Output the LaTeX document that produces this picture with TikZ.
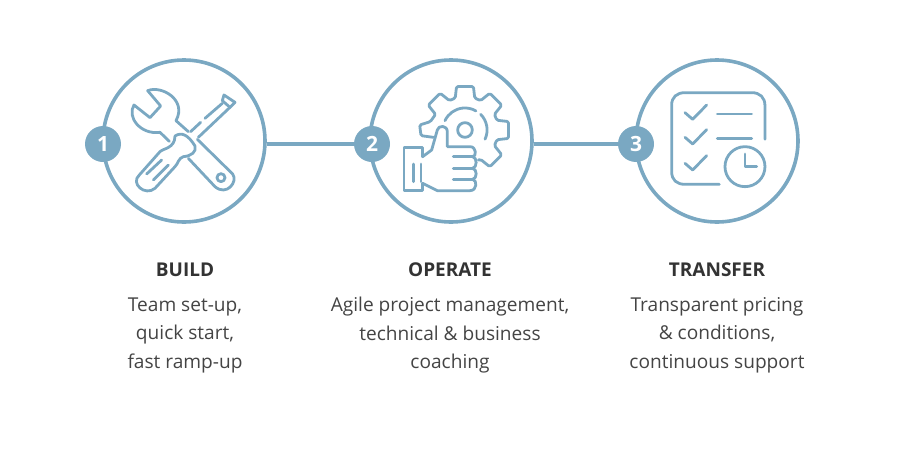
\documentclass[tikz,border=0pt]{standalone}
\usepackage{fontspec}
\setmainfont{Open Sans}
\definecolor{ringblue}{HTML}{7AA8C2}
\definecolor{titlegrey}{HTML}{333333}
\definecolor{bodygrey}{HTML}{444444}
\tikzset{
  ring/.style={circle, draw=ringblue, line width=3.6pt, minimum size=162pt, inner sep=0pt},
  badge/.style={circle, fill=ringblue, minimum size=36pt, inner sep=0pt, text=white, font=\fontsize{21}{21}\selectfont\bfseries},
  link/.style={draw=ringblue, line width=3.6pt},
  icon/.style={draw=ringblue, line width=2.8pt, line cap=round, line join=round},
  zoomed/.style={x=.3333pt, y=-.3333pt},
  heading/.style={text=titlegrey, font=\fontsize{19}{22}\selectfont\bfseries},
  blurb/.style={text=bodygrey, align=center, font=\fontsize{19.1}{28.6}\selectfont}
}
\begin{document}
\begin{tikzpicture}[x=1pt, y=-1pt]
  \useasboundingbox (0,0) rectangle (900,450);

  \node[ring] (build) at (184,141) {};
  \node[ring] (operate) at (451,141) {};
  \node[ring] (transfer) at (717,141) {};

  \node[badge] (num1) at (103,144) {1};
  \node[badge] (num2) at (372,144) {2};
  \node[badge] (num3) at (636,144) {3};

  \draw[link] (build.east |- num2.west) -- (num2.west);
  \draw[link] (operate.east |- num3.west) -- (num3.west);

  % tools
  \begin{scope}[shift={(80,50)}, zoomed]
    \draw[icon] (203,122) -- (242,168) -- (210,203) -- (162,165)
      .. controls (140,200) and (180,255) .. (240,247) -- (268,274);
    \draw[icon] (203,122) .. controls (245,105) and (322,150) .. (288,212) -- (325,245);
    \draw[icon] (352,268) -- (458,372) .. controls (475,395) and (440,440) .. (405,410) -- (325,325);
    \draw[icon] (423,383) circle (12);
    \draw[icon] (432,135) -- (465,157) -- (450,172) -- (427,152) -- cycle;
    \draw[icon] (427,160) -- (375,205);
    \draw[icon] (362,217) -- (332,245);
    \draw[icon] (450,172) -- (355,262);
    \draw[icon] (285,258) .. controls (305,245) and (325,255) .. (345,288)
      .. controls (350,305) and (335,318) .. (310,320)
      .. controls (295,325) and (295,340) .. (285,350) -- (225,415)
      .. controls (195,440) and (150,400) .. (178,375) -- (240,305)
      .. controls (250,295) and (285,295) .. (285,258);
    \draw[icon] (200,372) -- (245,330);
    \draw[icon] (220,390) -- (265,345);
  \end{scope}

  % gear and thumb
  \begin{scope}[shift={(350,50)}, zoomed]
    \begin{scope}[shift={(345,240)}]
      \draw[icon, rounded corners=1.5pt] (-95,22) -- (-132,17) -- (-136,-15) -- (-104,-25)
        \foreach \a in {-135,-90,-45,0} {
          -- (\a-17:100) -- (\a-11:133) -- (\a+11:133) -- (\a+17:100)
        } -- (45-17:100) -- (45-11:133) -- (45+11:133) -- (45+17:100) -- (40,90);
      \draw[icon] (0,0) circle (22);
      \draw[icon] (-60,-28) arc (205:300:66);
      \draw[icon] (47,-47) arc (315:385:66);
    \end{scope}
    \draw[icon, fill=white] (218,320) -- (245,300) -- (262,240)
      .. controls (265,225) and (292,225) .. (292,245) -- (292,290) -- (360,290)
      .. controls (380,290) and (380,320) .. (368,320)
      .. controls (382,322) and (382,353) .. (368,355)
      .. controls (382,357) and (382,386) .. (368,388)
      .. controls (382,390) and (382,422) .. (360,422)
      -- (262,422) -- (218,400);
    \draw[icon] (218,320) -- (218,293) -- (162,293) -- (162,422) -- (218,422) -- (218,400);
    \draw[icon] (190,342) -- (190,395);
    \draw[icon] (213,342) -- (213,395);
    \draw[icon] (310,320) -- (368,320);
    \draw[icon] (310,355) -- (368,355);
    \draw[icon] (310,388) -- (368,388);
  \end{scope}

  % checklist
  \begin{scope}[shift={(610,50)}, zoomed]
    \draw[icon] (328,403) -- (225,403) .. controls (200,403) and (185,390) .. (185,365)
      -- (185,165) .. controls (185,142) and (200,128) .. (225,128)
      -- (425,128) .. controls (450,128) and (465,142) .. (465,168) -- (465,268);
    \foreach \y in {0,74,152} {
      \draw[icon] (225,188+\y) -- (248,208+\y) -- (290,165+\y);
    }
    \draw[icon] (322,192) -- (425,192);
    \draw[icon] (322,265) -- (425,265);
    \draw[icon] (405,350) circle (60);
    \draw[icon] (405,312) -- (405,350) -- (440,350);
  \end{scope}

  \node[heading] (buildtitle) at (185,269.7) {BUILD};
  \node[heading] (operatetitle) at (450,269.7) {OPERATE};
  \node[heading] (transfertitle) at (717,269.7) {TRANSFER};

  \node[blurb] (buildtext) at (185,335.2) {Team set-up,\\quick start,\\fast ramp-up};
  \node[blurb] (operatetext) at (450,335.2) {Agile project management,\\technical \& business\\coaching};
  \node[blurb] (transfertext) at (717,335.2) {Transparent pricing\\\& conditions,\\continuous support};
\end{tikzpicture}
\end{document}
